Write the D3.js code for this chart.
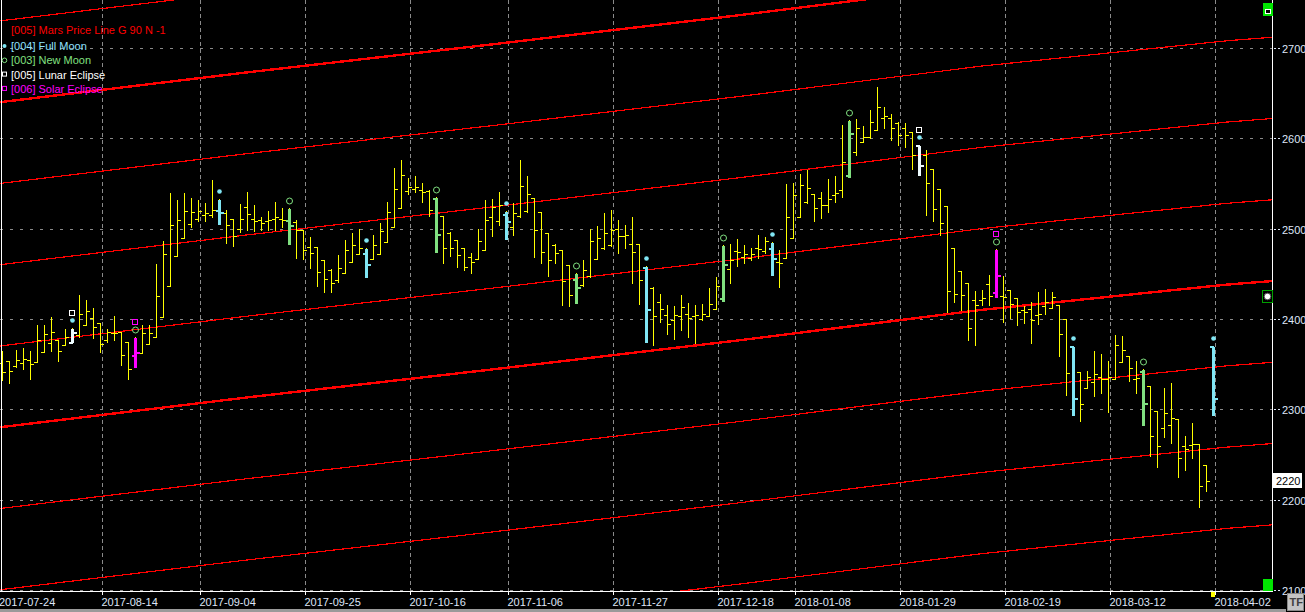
<!DOCTYPE html>
<html>
<head>
<meta charset="utf-8">
<script src="https://cdnjs.cloudflare.com/ajax/libs/d3/7.8.5/d3.min.js"></script>
<style>
    body { margin: 0; background: #000; overflow: hidden; }
    svg { display: block; }
    text { font-family: "Liberation Sans", Arial, sans-serif; }
</style>
</head>
<body>
<div id="vis"></div>
<script>

// daily OHLC, one entry per trading day starting 2017-07-24
var openP = [2351,2353,2348,2351,2355,2352,2363,2373,2377,2371,2375,2382,2393,2401,2396,2377,2384,2385,2374,2360,
    2362,2372,2380,2402,2437,2470,2490,2505,2511,2515,2515,2521,2517,2511,2500,2524,2511,2510,2508,2511,
    2511,2510,2507,2499,2480,2480,2465,2454,2443,2451,2463,2472,2473,2466,2472,2485,2502,2523,2542,2544,
    2543,2542,2534,2514,2495,2487,2478,2469,2466,2476,2513,2509,2516,2502,2514,2519,2534,2518,2495,2482,
    2476,2460,2444,2438,2447,2466,2478,2482,2500,2492,2483,2483,2458,2434,2419,2404,2399,2403,2406,2403,
    2400,2403,2411,2423,2455,2475,2469,2468,2478,2475,2479,2463,2468,2490,2513,2530,2538,2534,2526,2537,
    2543,2559,2585,2596,2602,2609,2622,2623,2617,2611,2607,2593,2582,2566,2544,2525,2478,2453,2440,2421,
    2421,2439,2430,2425,2432,2423,2410,2411,2404,2414,2412,2415,2400,2370,2341,2323,2330,2336,2334,2334,
    2352,2359,2334,2342,2326,2298,2279,2283,2289,2259,2260,2262,2238,2370];
var highP = [2364,2353,2366,2368,2364,2393,2393,2402,2377,2389,2390,2427,2421,2412,2396,2389,2403,2385,2374,2380,
    2393,2393,2461,2486,2539,2532,2540,2534,2532,2528,2554,2533,2521,2511,2527,2541,2526,2513,2519,2530,
    2523,2523,2510,2499,2491,2480,2465,2455,2471,2487,2495,2500,2478,2493,2506,2530,2567,2576,2556,2558,
    2550,2543,2535,2514,2496,2487,2478,2473,2500,2532,2533,2541,2519,2528,2576,2558,2534,2518,2495,2483,
    2476,2460,2451,2465,2500,2503,2517,2521,2510,2504,2513,2483,2459,2435,2428,2415,2414,2427,2418,2415,
    2417,2434,2446,2482,2483,2489,2482,2479,2493,2491,2485,2476,2549,2550,2561,2565,2538,2541,2555,2558,
    2615,2620,2621,2614,2631,2657,2635,2627,2618,2617,2607,2593,2587,2566,2544,2525,2478,2453,2440,2431,
    2432,2449,2477,2447,2432,2423,2414,2419,2430,2433,2430,2415,2400,2370,2341,2342,2365,2361,2353,2382,
    2381,2359,2353,2344,2326,2298,2324,2329,2289,2270,2285,2262,2238,2370];
var lowP = [2332,2329,2347,2345,2334,2352,2363,2365,2353,2371,2374,2380,2393,2379,2363,2374,2377,2349,2334,2347,
    2362,2372,2380,2402,2437,2470,2490,2502,2508,2508,2513,2505,2484,2481,2496,2499,2497,2499,2499,2499,
    2502,2483,2468,2466,2456,2437,2430,2430,2441,2451,2463,2472,2446,2466,2472,2485,2502,2523,2538,2541,
    2530,2514,2474,2462,2470,2457,2454,2451,2466,2476,2492,2504,2489,2493,2513,2518,2469,2462,2447,2462,
    2415,2414,2418,2437,2446,2466,2477,2481,2473,2478,2440,2416,2374,2371,2397,2383,2378,2388,2380,2373,
    2399,2403,2411,2420,2440,2459,2462,2465,2468,2473,2449,2435,2468,2490,2513,2528,2508,2512,2518,2529,
    2535,2557,2582,2596,2600,2609,2612,2598,2593,2590,2566,2559,2515,2509,2493,2408,2419,2410,2377,2371,
    2415,2415,2424,2397,2401,2393,2395,2373,2394,2406,2412,2359,2316,2294,2287,2323,2315,2318,2297,2334,
    2352,2331,2318,2283,2248,2236,2269,2263,2225,2233,2246,2192,2209,2294];
var closeP = [2341,2342,2355,2356,2350,2377,2383,2385,2365,2380,2385,2406,2409,2391,2372,2385,2384,2360,2344,2363,
    2384,2384,2425,2472,2504,2510,2519,2518,2520,2517,2521,2518,2504,2492,2511,2516,2508,2506,2510,2513,
    2510,2504,2499,2476,2473,2452,2444,2440,2456,2476,2482,2478,2461,2482,2497,2518,2544,2559,2546,2546,
    2541,2521,2494,2478,2479,2471,2458,2463,2486,2510,2524,2526,2509,2517,2547,2538,2499,2474,2465,2473,
    2442,2426,2435,2454,2486,2490,2495,2499,2492,2493,2474,2443,2411,2403,2411,2394,2404,2413,2401,2404,
    2406,2417,2436,2461,2465,2474,2472,2472,2477,2486,2467,2462,2513,2537,2548,2545,2523,2526,2533,2540,
    2574,2606,2611,2602,2618,2635,2625,2611,2604,2604,2582,2570,2550,2522,2506,2431,2428,2426,2390,2415,
    2423,2425,2449,2424,2417,2408,2408,2399,2406,2419,2424,2383,2340,2312,2306,2336,2339,2334,2336,2371,
    2366,2346,2335,2307,2270,2259,2296,2290,2246,2256,2262,2215,2220,2312];

// bar indices of the astro events
var fullMoon = [10, 31, 52, 72, 92, 110, 131, 153, 173];
var newMoon = [19, 41, 62, 82, 103, 121, 142, 163];
var lunarEclipse = [10, 131];
var solarEclipse = [19, 142];

// Mars price line (bar index -> price), repeated every 90
var marsIdx = [-0.3, 35, 70, 105, 140, 175, 181.6];
var marsPrice = [2280, 2313, 2344, 2376, 2410, 2438, 2442];
var marsSteps = [-3, -2, -1, 0, 1, 2, 3, 4, 5];

var dateLabels = ['2017-07-24','2017-08-14','2017-09-04','2017-09-25','2017-10-16','2017-11-06','2017-11-27',
    '2017-12-18','2018-01-08','2018-01-29','2018-02-19','2018-03-12','2018-04-02'];
var dateIdx = [0, 15, 29, 44, 59, 73, 88, 103, 114, 129, 144, 159, 174];
var priceTicks = [2100, 2200, 2300, 2400, 2500, 2600, 2700];
var lastPrice = 2220;

var legendText = ['[004] Full Moon', '[003] New Moon', '[005] Lunar Eclipse', '[006] Solar Eclipse'];

var cyan = '#80e6f4', green = '#80e080', magenta = '#ff00ff', yellow = '#ffff00', red = '#ff0000';
var gridColor = '#8a8a8a', labelColor = '#dfe6f8';

var width = 1305, height = 612;
var plotRight = 1272, plotBottom = 591;

var svg = d3.select('#vis')
    .append('svg')
    .attr('width', width)
    .attr('height', height)
    .style('background', '#000');

var xScale = d3.scaleLinear().domain([-0.24, 181.5]).range([0, plotRight]);
var yScale = d3.scaleLinear().domain([2098.7, 2753.2]).range([plotBottom, 0]);

var px = function(i) { return Math.round(xScale(i)) + 0.5; };
var py = function(v) { return Math.round(yScale(v)) + 0.5; };

svg.append('clipPath').attr('id', 'plotclip')
    .append('rect').attr('x', 0).attr('y', 0).attr('width', plotRight).attr('height', plotBottom);

var g = svg.append('g').attr('clip-path', 'url(#plotclip)');

// grid
g.selectAll('.hgrid').data(priceTicks).enter().append('line')
    .attr('x1', 0).attr('x2', plotRight)
    .attr('y1', function(d) { return py(d); })
    .attr('y2', function(d) { return py(d); })
    .attr('stroke', gridColor).attr('stroke-dasharray', '3,7')
    .attr('shape-rendering', 'crispEdges');

g.selectAll('.vgrid').data(dateIdx.slice(1)).enter().append('line')
    .attr('x1', function(d) { return px(d - 0.6); })
    .attr('x2', function(d) { return px(d - 0.6); })
    .attr('y1', 0).attr('y2', plotBottom)
    .attr('stroke', gridColor).attr('stroke-dasharray', '4,3')
    .attr('shape-rendering', 'crispEdges');

// mars price lines
var marsPts = marsIdx.map(function(d, i) { return [d, marsPrice[i]]; });
marsSteps.forEach(function(n) {
    var line = d3.line()
        .x(function(d) { return xScale(d[0]); })
        .y(function(d) { return yScale(d[1] + 90 * n); });
    g.append('path')
        .attr('d', line(marsPts))
        .attr('fill', 'none')
        .attr('stroke', red)
        .attr('stroke-width', n % 4 === 0 ? 2.4 : 1.2)
        .attr('shape-rendering', 'crispEdges');
});

// price bars
var idx = d3.range(openP.length);
var bars = g.selectAll('.bar').data(idx).enter().append('g').attr('class', 'bar');
bars.append('line')
    .attr('x1', px).attr('x2', px)
    .attr('y1', function(i) { return py(highP[i]) - 0.5; })
    .attr('y2', function(i) { return py(lowP[i]) + 0.5; });
bars.append('line')
    .attr('x1', function(i) { return px(i) - 3.5; }).attr('x2', px)
    .attr('y1', function(i) { return py(openP[i]); })
    .attr('y2', function(i) { return py(openP[i]); });
bars.append('line')
    .attr('x1', px).attr('x2', function(i) { return px(i) + 3.5; })
    .attr('y1', function(i) { return py(closeP[i]); })
    .attr('y2', function(i) { return py(closeP[i]); });
bars.selectAll('line').attr('stroke', yellow).attr('shape-rendering', 'crispEdges');

// event bars
var drawEvent = function(list, color) {
    var eg = g.selectAll(null).data(list).enter().append('g');
    eg.append('line')
        .attr('x1', px).attr('x2', px)
        .attr('y1', function(i) { return py(highP[i]); })
        .attr('y2', function(i) { return py(lowP[i]); })
        .attr('stroke-width', 3);
    eg.append('line')
        .attr('x1', function(i) { return px(i) - 4; }).attr('x2', px)
        .attr('y1', function(i) { return py(openP[i]); })
        .attr('y2', function(i) { return py(openP[i]); })
        .attr('stroke-width', 2);
    eg.append('line')
        .attr('x1', px).attr('x2', function(i) { return px(i) + 4; })
        .attr('y1', function(i) { return py(closeP[i]); })
        .attr('y2', function(i) { return py(closeP[i]); })
        .attr('stroke-width', 2);
    eg.selectAll('line').attr('stroke', color).attr('shape-rendering', 'crispEdges');
};
drawEvent(newMoon, green);
drawEvent(fullMoon, cyan);
drawEvent(lunarEclipse, '#eefcff');
drawEvent(solarEclipse, magenta);

// event markers above the bars
g.selectAll('.fm').data(fullMoon).enter().append('circle')
    .attr('cx', px).attr('cy', function(i) { return py(highP[i]) - 8; })
    .attr('r', 2.3).attr('fill', cyan);
g.selectAll('.nm').data(newMoon).enter().append('circle')
    .attr('cx', px).attr('cy', function(i) { return py(highP[i]) - 7.5; })
    .attr('r', 3).attr('fill', 'none').attr('stroke', green);
g.selectAll('.le').data(lunarEclipse).enter().append('rect')
    .attr('x', function(i) { return px(i) - 3; }).attr('y', function(i) { return py(highP[i]) - 18; })
    .attr('width', 5).attr('height', 5)
    .attr('fill', 'none').attr('stroke', '#fff');
g.selectAll('.se').data(solarEclipse).enter().append('rect')
    .attr('x', function(i) { return px(i) - 3; }).attr('y', function(i) { return py(highP[i]) - 18; })
    .attr('width', 5).attr('height', 5)
    .attr('fill', 'none').attr('stroke', magenta);

// borders
svg.append('line').attr('x1', 1.5).attr('x2', 1.5).attr('y1', 0).attr('y2', plotBottom)
    .attr('stroke', '#fff').attr('shape-rendering', 'crispEdges');
svg.append('line').attr('x1', plotRight + 0.5).attr('x2', plotRight + 0.5).attr('y1', 0).attr('y2', plotBottom + 1)
    .attr('stroke', '#fff').attr('shape-rendering', 'crispEdges');
svg.append('line').attr('x1', 0).attr('x2', plotRight + 1).attr('y1', plotBottom + 0.5).attr('y2', plotBottom + 0.5)
    .attr('stroke', '#fff').attr('shape-rendering', 'crispEdges');

// right axis
var yAxis = svg.append('g');
yAxis.selectAll('.tk').data(priceTicks).enter().append('line')
    .attr('x1', plotRight + 2).attr('x2', plotRight + 8)
    .attr('y1', function(d) { return py(d); }).attr('y2', function(d) { return py(d); })
    .attr('stroke', labelColor).attr('stroke-dasharray', '2,2').attr('shape-rendering', 'crispEdges');
yAxis.selectAll('text').data(priceTicks).enter().append('text')
    .attr('x', plotRight + 10)
    .attr('y', function(d) { return py(d) + 4; })
    .attr('fill', labelColor).style('font-size', '11px')
    .text(function(d) { return d; });

// last price box
svg.append('rect').attr('x', plotRight + 1).attr('y', py(lastPrice) - 8.5)
    .attr('width', 29).attr('height', 15).attr('fill', '#fff');
svg.append('text').attr('x', plotRight + 4).attr('y', py(lastPrice) + 3.5)
    .attr('fill', '#000').style('font-size', '11px').text(lastPrice);

// bottom axis
var xAxis = svg.append('g');
xAxis.selectAll('.tk').data(dateIdx.slice(1)).enter().append('line')
    .attr('x1', function(d) { return px(d - 0.6); }).attr('x2', function(d) { return px(d - 0.6); })
    .attr('y1', plotBottom).attr('y2', plotBottom + 4)
    .attr('stroke', '#fff').attr('shape-rendering', 'crispEdges');
xAxis.selectAll('text').data(dateIdx).enter().append('text')
    .attr('x', function(d, i) { return i === 0 ? -1 : px(d - 0.6) - 1; })
    .attr('y', 606)
    .attr('fill', labelColor).style('font-size', '11px')
    .text(function(d, i) { return dateLabels[i]; });

svg.append('rect').attr('x', 0).attr('y', 609).attr('width', 1286).attr('height', 3).attr('fill', '#9a9a9a');

// current bar marker
svg.append('rect').attr('x', px(173) - 2.5).attr('y', plotBottom + 1).attr('width', 4).attr('height', 5).attr('fill', yellow);

// TF button
svg.append('rect').attr('x', 1287.5).attr('y', 593.5).attr('width', 16).attr('height', 17)
    .attr('fill', '#c4c4c4').attr('stroke', '#888');
svg.append('text').attr('x', 1289.5).attr('y', 606).attr('fill', '#404040')
    .style('font-size', '11px').style('font-weight', 'bold').text('TF');

// small widgets on the right edge
svg.append('rect').attr('x', 1263).attr('y', 3).attr('width', 10).attr('height', 13).attr('fill', '#00e600');
svg.append('rect').attr('x', 1265.5).attr('y', 9.5).attr('width', 5).attr('height', 4)
    .attr('fill', '#000').attr('stroke', '#fff');
svg.append('rect').attr('x', 1263).attr('y', 579).attr('width', 10).attr('height', 12).attr('fill', '#00e600');
svg.append('rect').attr('x', 1262.5).attr('y', 290.5).attr('width', 10).attr('height', 12)
    .attr('fill', '#000').attr('stroke', '#00a000');
svg.append('circle').attr('cx', 1267.5).attr('cy', 296.5).attr('r', 3.3)
    .attr('fill', '#fff').attr('stroke', '#555');

// legend
var legend = svg.append('g');
legend.append('text').attr('x', 11).attr('y', 34).attr('fill', red)
    .style('font-size', '11px').text('[005] Mars Price Line G 90 N -1');
var legendColors = [cyan, green, '#ffffff', magenta];
legendText.forEach(function(t, i) {
    var y = 50 + i * 14.3;
    legend.append('text').attr('x', 11).attr('y', y).attr('fill', i === 0 ? '#8fe2ff' : legendColors[i])
        .style('font-size', '11px').text(t);
    if (i === 0) {
        legend.append('circle').attr('cx', 4.5).attr('cy', y - 4).attr('r', 2).attr('fill', cyan);
    } else if (i === 1) {
        legend.append('circle').attr('cx', 4.5).attr('cy', y - 4).attr('r', 2.3)
            .attr('fill', 'none').attr('stroke', green);
    } else {
        legend.append('rect').attr('x', 2.5).attr('y', y - 6.5).attr('width', 4).attr('height', 4)
            .attr('fill', 'none').attr('stroke', legendColors[i]);
    }
});

</script>
</body>
</html>
